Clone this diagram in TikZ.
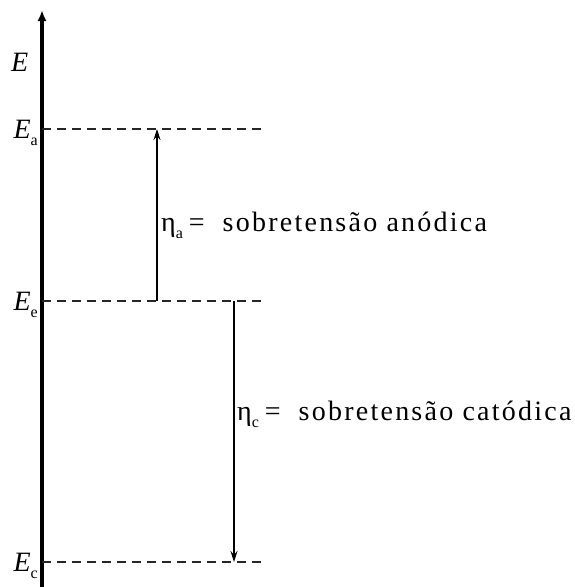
\documentclass[tikz,border=0pt]{standalone}
\usepackage{fontspec}
\setmainfont{Liberation Serif}
\newfontfamily\espacada[LetterSpace=8]{Liberation Serif}
\usetikzlibrary{arrows.meta, positioning}
\newcommand{\indice}[1]{\raisebox{-7pt}{\fontsize{16}{16}\selectfont #1}}

\begin{document}
\begin{tikzpicture}[x=1pt, y=-1pt, font=\fontsize{28}{31}\selectfont, >=Latex,
        eixo/.style={line width=3.2pt, -{Latex[length=11pt, width=9pt]}},
        nivel/.style={line width=1.4pt, dash pattern=on 9pt off 6pt, black!85},
        sobre/.style={line width=1.2pt, -{Stealth[length=11pt, width=7pt]}},
        rotulo/.style={anchor=base west, inner sep=0pt}]
    \useasboundingbox (0,0) rectangle (574,587);
    \coordinate (base) at (42,587);
    \coordinate (topo) at (42,10);
    \draw[eixo] (base) -- (topo);
    \node[rotulo] (E) at (11,71) {\textit{E}};
    % niveis de potencial
    \foreach \y/\n in {129/a, 301/e, 562/c} {
        \coordinate (l\n) at (42,\y);
        \coordinate (r\n) at (263,\y);
        \draw[nivel] (l\n) -- (r\n);
        \node[anchor=base east, inner sep=0pt] (E\n) at (38,\y+9) {\textit{E}\indice{\n}};
    }
    \coordinate (ia) at (157,301);
    \coordinate (fa) at (157,129);
    \coordinate (ic) at (234,301);
    \coordinate (fc) at (234,562);
    \draw[sobre] (ia) -- (fa);
    \draw[sobre] (ic) -- (fc);
    \node[rotulo] (etaa) at (161,231) {η\indice{a}\hspace{6pt}=\hspace{18pt}\espacada sobretensão anódica};
    \node[rotulo] (etac) at (237,420) {η\indice{c}\hspace{6pt}=\hspace{18pt}\espacada sobretensão catódica};
\end{tikzpicture}
\end{document}
